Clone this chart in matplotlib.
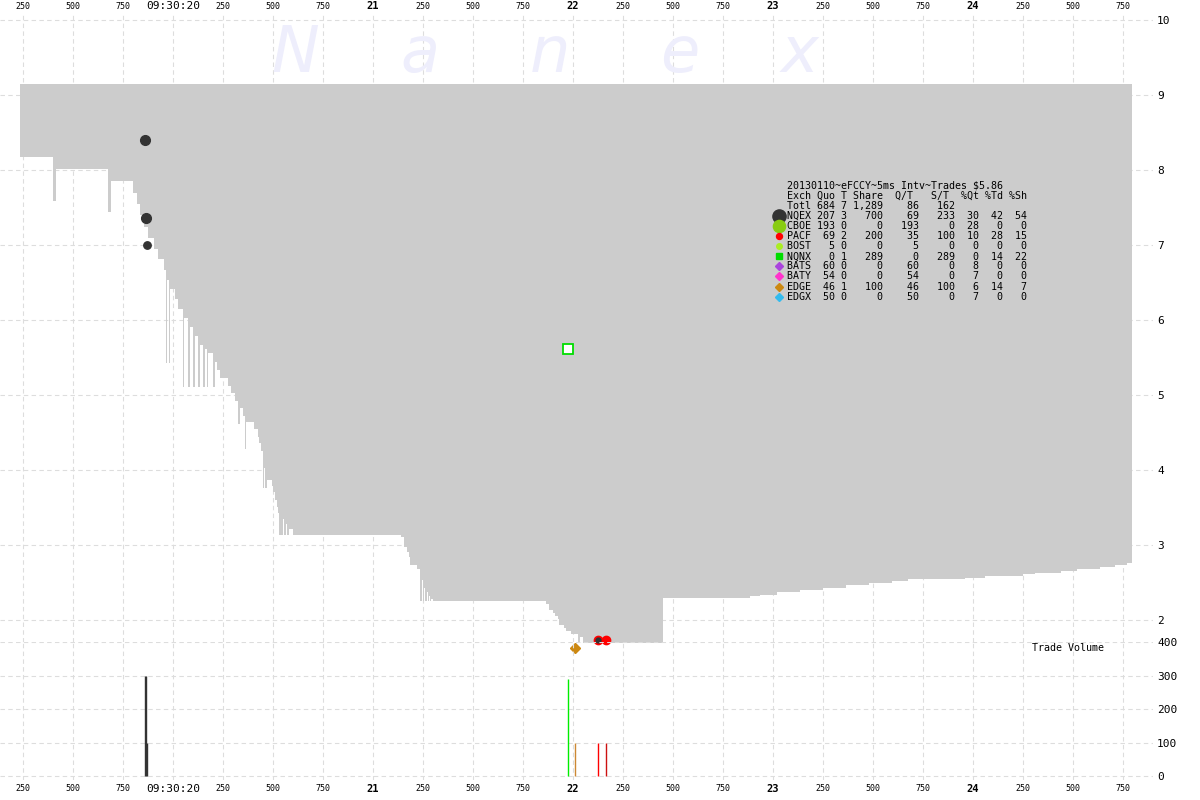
import matplotlib
matplotlib.use('Agg')
import matplotlib.pyplot as plt
import numpy as np

# NBBO for eFCCY, time in ms after 09:30:20.000, price in $
bid_ms = [-765, -602, -585, -327, -310, -202, -182, -165, -145, -125, -95, -75, -45,
          -35, -28, -18, -15, 8, 26, 48, 55, 75, 85, 101, 110, 125, 135, 148, 158,
          168, 176, 198, 210, 221, 235, 276, 288, 310, 323, 335, 351, 360, 365, 405,
          423, 430, 438, 448, 455, 461, 468, 493, 501, 510, 518, 526, 531, 548, 555,
          565, 571, 581, 598, 1138, 1155, 1171, 1180, 1185, 1221, 1235, 1243, 1248,
          1255, 1261, 1268, 1273, 1278, 1285, 1290, 1298, 1865, 1880, 1901, 1910,
          1926, 1931, 1955, 1963, 1988, 2023, 2035, 2050, 2452, 2625, 2885, 2933,
          3020, 3135, 3250, 3365, 3480, 3595, 3673, 3770, 3960, 4058, 4250, 4308,
          4442, 4520, 4635, 4710, 4770]
bid = [8.177, 7.591, 8.013, 7.444, 7.853, 7.697, 7.547, 7.40, 7.244, 7.093, 6.947, 6.813, 6.667,
       5.431, 6.533, 5.431, 6.413, 6.28, 6.147, 5.111, 6.027, 5.111, 5.907, 5.111, 5.787, 5.111,
       5.667, 5.111, 5.613, 5.111, 5.556, 5.111, 5.436, 5.333, 5.223, 5.12, 5.023, 4.924, 4.613,
       4.831, 4.72, 4.28, 4.636, 4.547, 4.444, 4.356, 4.257, 3.764, 4.027, 3.764, 3.867, 3.787,
       3.711, 3.60, 3.503, 3.427, 3.14, 3.343, 3.14, 3.28, 3.14, 3.209, 3.14, 3.103, 2.977,
       2.911, 2.844, 2.733, 2.68, 2.253, 2.533, 2.253, 2.427, 2.253, 2.373, 2.253, 2.32, 2.253,
       2.28, 2.253, 2.213, 2.133, 2.097, 2.053, 2.013, 1.933, 1.889, 1.853, 1.813, 1.60, 1.777,
       1.60, 2.289, 2.299, 2.32, 2.333, 2.368, 2.40, 2.429, 2.465, 2.496, 2.521, 2.544, 2.552,
       2.565, 2.583, 2.613, 2.627, 2.653, 2.676, 2.711, 2.737, 2.755]
ask = 9.147
nbbo_end = 4795

# trades
trade_ms = [-140, -135, -130, 1975, 2010, 2125, 2165]
trade_price = [8.40, 7.36, 7.00, 5.613, 1.627, 1.733, 1.733]
trade_size = [300, 300, 100, 289, 100, 100, 100]
trade_exch = ['NQEX', 'NQEX', 'NQEX', 'NQNX', 'EDGE', 'PACF', 'PACF']

# summary table
title_line = '20130110~eFCCY~5ms Intv~Trades $5.86'
exch = ['NQEX', 'CBOE', 'PACF', 'BOST', 'NQNX', 'BATS', 'BATY', 'EDGE', 'EDGX']
quo = [207, 193, 69, 5, 0, 60, 54, 46, 50]
trd = [3, 0, 2, 0, 1, 0, 0, 1, 0]
share = [700, 0, 200, 0, 289, 0, 0, 100, 0]
q_t = [69, 193, 35, 5, 0, 60, 54, 46, 50]
s_t = [233, 0, 100, 0, 289, 0, 0, 100, 0]
pct_qt = [30, 28, 10, 0, 0, 8, 7, 6, 7]
pct_td = [42, 0, 28, 0, 14, 0, 0, 14, 0]
pct_sh = [54, 0, 15, 0, 22, 0, 0, 7, 0]
tot_quo, tot_trd, tot_share, tot_qt, tot_st = 684, 7, 1289, 86, 162

style = {
    'NQEX': dict(c='#333333', m='o', lg=9.5),
    'CBOE': dict(c='#88cc11', m='o', lg=8.8),
    'PACF': dict(c='#ff0000', m='o', lg=4.3),
    'BOST': dict(c='#aaee22', m='o', lg=4.0),
    'NQNX': dict(c='#00dd00', m='s', lg=4.0),
    'BATS': dict(c='#aa44dd', m='D', lg=4.0),
    'BATY': dict(c='#ff33cc', m='D', lg=4.0),
    'EDGE': dict(c='#cc8811', m='D', lg=4.0),
    'EDGX': dict(c='#33bbee', m='D', lg=4.0),
}
bar_colors = ['#333333', '#333333', '#333333', '#00ee00', '#cc8833', '#ff0000', '#cc1111']

mono = 'DejaVu Sans Mono'
W, H = 1200, 800
fig = plt.figure(figsize=(12, 8), dpi=100)
ax = fig.add_axes([0, 1 - 642 / H, 1153 / W, (642 - 12) / H])
axv = fig.add_axes([0, 1 - 780 / H, 1153 / W, (780 - 642) / H])

xt = np.arange(-750, 4751, 250)


def xlab(v):
    if v == 0:
        return '09:30:20'
    if v % 1000 == 0:
        return str(20 + v // 1000)
    return str(v % 1000)


ax.xaxis.tick_top()
for a in (ax, axv):
    a.set_xlim(-865, 4900)
    a.set_xticks(xt)
    a.set_xticklabels([xlab(v) for v in xt])
    for s in a.spines.values():
        s.set_visible(False)
    a.grid(True, color='#dddddd', linestyle=(0, (4, 3)), linewidth=0.8)
    a.set_axisbelow(True)
    a.yaxis.tick_right()
    a.tick_params(length=0)
    a.tick_params(axis='y', pad=3, labelsize=8)
    for tk in a.yaxis.get_major_ticks():
        tk.label2.set_family(mono)
    for v, tk in zip(xt, a.xaxis.get_major_ticks()):
        for lab in (tk.label1, tk.label2):
            lab.set_family(mono)
            if v == 0:
                lab.set_fontsize(8)
            elif v % 1000 == 0:
                lab.set_fontsize(7.5)
                lab.set_fontweight('bold')
            else:
                lab.set_fontsize(6)

ax.tick_params(axis='x', pad=1)
axv.tick_params(axis='x', pad=3)
ax.set_ylim(1.707, 10.107)
ax.set_yticks(range(2, 11))
axv.set_ylim(-11.9, 400)
axv.set_yticks([0, 100, 200, 300, 400])
axv.patch.set_alpha(0)

# NBBO spread
t = np.array(bid_ms + [nbbo_end])
b = np.array(bid + [bid[-1]])
ax.fill_between(t, b, np.full(len(t), ask), step='post', color='#cccccc', lw=0, zorder=1)

# trades
for tm, p, v, ex in zip(trade_ms, trade_price, trade_size, trade_exch):
    st = style[ex]
    if ex == 'NQEX':
        ax.plot(tm, p, 'o', ms=4.5 + v / 120, color=st['c'], zorder=5, clip_on=False)
    elif ex == 'NQNX':
        ax.plot(tm, p, 's', ms=6.5, mfc='white', mec=st['c'], mew=1.3, zorder=5, clip_on=False)
    elif ex == 'EDGE':
        ax.plot(tm, p, 'D', ms=5.5, color=st['c'], zorder=5, clip_on=False)
    else:
        ax.plot(tm, p, 'o', ms=6, color=st['c'], zorder=5, clip_on=False)
pacf_first = trade_exch.index('PACF')
ax.plot(trade_ms[pacf_first], trade_price[pacf_first], 'o', ms=3.5, color='#333333', zorder=6,
        clip_on=False)

axv.vlines(trade_ms, 0, trade_size, colors=bar_colors, lw=1.0, zorder=3)
fig.text(1032 / W, 1 - 648 / H, 'Trade Volume', family=mono, fontsize=7.2, va='center')

# watermark
for ch, xp in zip('Nanex', [295, 420, 550, 680, 800]):
    fig.text(xp / W, 1 - 54 / H, ch, fontsize=46, style='italic', color='#eeeefc',
             ha='center', va='center', zorder=0)

# summary table
rows = [title_line,
        'Exch Quo T Share  Q/T   S/T  %Qt %Td %Sh',
        'Totl {:>3} {} {:>5} {:>5} {:>5}'.format(tot_quo, tot_trd, f'{tot_share:,}', tot_qt, tot_st)]
for i in range(len(exch)):
    rows.append('{:<4} {:>3} {} {:>5} {:>5} {:>5} {:>3} {:>3} {:>3}'.format(
        exch[i], quo[i], trd[i], share[i], q_t[i], s_t[i], pct_qt[i], pct_td[i], pct_sh[i]))
for i, r in enumerate(rows):
    fig.text(787 / W, 1 - (186 + 10.05 * i) / H, r, family=mono, fontsize=7.2, va='center')
for i, ex in enumerate(exch):
    st = style[ex]
    y = 1 - (186 + 10.05 * (i + 3)) / H
    fig.add_artist(plt.Line2D([779 / W], [y], marker=st['m'], ms=st['lg'], color=st['c'],
                              lw=0, transform=fig.transFigure))

fig.savefig('out.png', dpi=100)
